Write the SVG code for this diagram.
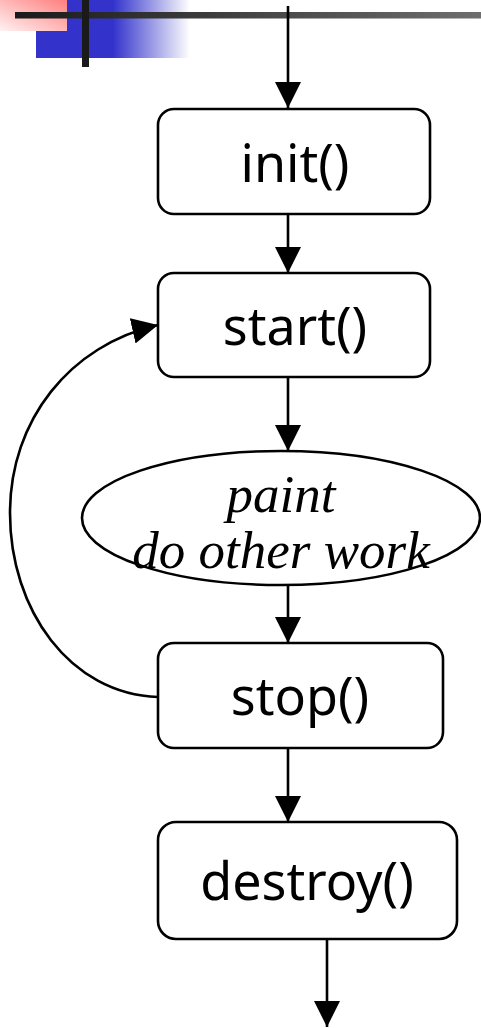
<svg xmlns="http://www.w3.org/2000/svg" width="481" height="1028" viewBox="0 0 481 1028">
  <style>
    .box { fill: #ffffff; stroke: #000000; stroke-width: 2.6; }
    .label { font-family: "Noto Sans", "DejaVu Sans", sans-serif; font-size: 52px; fill: #000000; text-anchor: middle; }
    .note { font-family: "Liberation Serif", serif; font-style: italic; font-size: 53px; fill: #000000; text-anchor: middle; }
    .edge { fill: none; stroke: #000000; stroke-width: 2.6; }
  </style>
  <defs>
    <linearGradient id="blueFade" x1="0" y1="0" x2="1" y2="0">
      <stop offset="0" stop-color="#3333cc"/>
      <stop offset="0.5" stop-color="#3333cc"/>
      <stop offset="1" stop-color="#ffffff"/>
    </linearGradient>
    <linearGradient id="pinkFade" x1="1" y1="0" x2="0" y2="1">
      <stop offset="0" stop-color="#ff7f7f"/>
      <stop offset="1" stop-color="#fff2f2"/>
    </linearGradient>
    <linearGradient id="barFade" x1="0" y1="0" x2="1" y2="0">
      <stop offset="0" stop-color="#1a1a1a"/>
      <stop offset="1" stop-color="#6e6e6e"/>
    </linearGradient>
    <marker id="arrow" viewBox="0 0 26 26" refX="26" refY="13" markerWidth="26" markerHeight="26" markerUnits="userSpaceOnUse" orient="auto">
      <path d="M0,0 L26,13 L0,26 Z" fill="#000000"/>
    </marker>
  </defs>

  <!-- title bar ornament -->
  <g id="ornament">
    <rect x="36" y="0" width="154" height="58" fill="url(#blueFade)"/>
    <rect x="0" y="0" width="67" height="31" fill="url(#pinkFade)"/>
    <rect x="15" y="12" width="466" height="6.5" fill="url(#barFade)"/>
    <rect x="82" y="0" width="7" height="67" fill="#1a1a1a"/>
  </g>

  <!-- connectors -->
  <g id="connectors">
    <line class="edge" x1="288" y1="6" x2="288" y2="108" marker-end="url(#arrow)"/>
    <line class="edge" x1="288" y1="214" x2="288" y2="273" marker-end="url(#arrow)"/>
    <line class="edge" x1="288" y1="377" x2="288" y2="451" marker-end="url(#arrow)"/>
    <line class="edge" x1="288" y1="585" x2="288" y2="643" marker-end="url(#arrow)"/>
    <line class="edge" x1="288" y1="748" x2="288" y2="822" marker-end="url(#arrow)"/>
    <line class="edge" x1="327" y1="939" x2="327" y2="1027" marker-end="url(#arrow)"/>
    <path class="edge" d="M158,697 C70,694 10,610 10,513 C10,420 70,345 158,325" marker-end="url(#arrow)"/>
  </g>

  <g id="init">
    <rect class="box" x="158" y="109" width="272" height="105" rx="16"/>
    <text class="label" x="295" y="182">init()</text>
  </g>

  <g id="start">
    <rect class="box" x="158" y="273" width="272" height="104" rx="16"/>
    <text class="label" x="295" y="345">start()</text>
  </g>

  <g id="work">
    <ellipse class="box" cx="281" cy="518" rx="199" ry="67"/>
    <text class="note" x="281" y="512">paint</text>
    <text class="note" x="281" y="568">do other work</text>
  </g>

  <g id="stop">
    <rect class="box" x="158" y="643" width="285" height="105" rx="16"/>
    <text class="label" x="300" y="715">stop()</text>
  </g>

  <g id="destroy">
    <rect class="box" x="158" y="822" width="299" height="117" rx="18"/>
    <text class="label" x="307" y="900">destroy()</text>
  </g>
</svg>
